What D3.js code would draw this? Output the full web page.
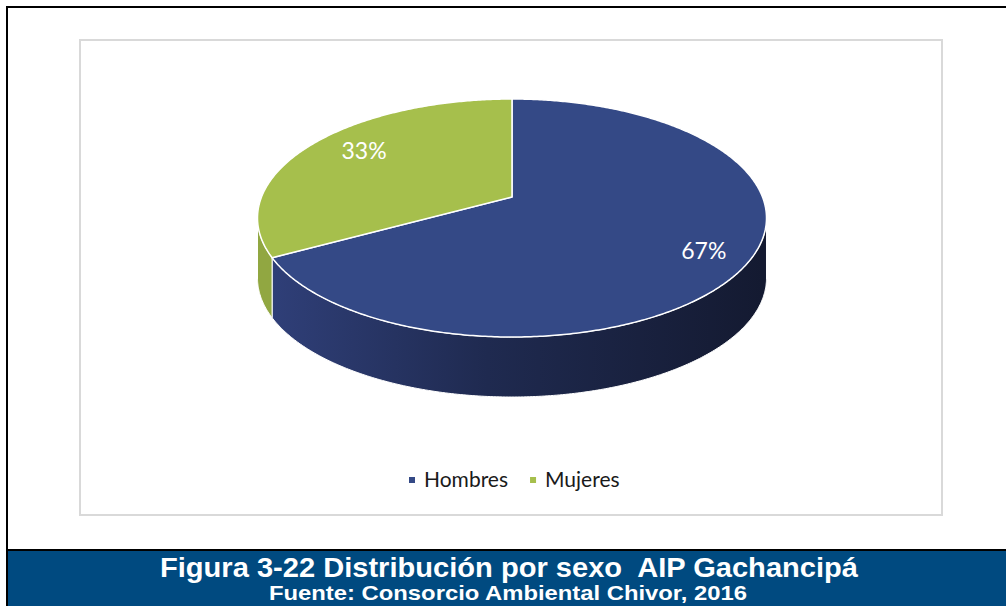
<!DOCTYPE html>
<html>
<head>
<meta charset="utf-8">
<script src="https://cdn.jsdelivr.net/npm/d3@7"></script>
<style>
  body { margin: 0; background: #fff; }
  svg { display: block; }
</style>
</head>
<body>
<div id="chart"></div>
<script>
// data
const categories = ["Hombres", "Mujeres"];
const values = [67, 33];
const labels = ["67%", "33%"];
const topColors = ["#344986", "#a6bf4c"];
const titleText = "Figura 3-22 Distribución por sexo  AIP Gachancipá";
const sourceText = "Fuente: Consorcio Ambiental Chivor, 2016";

const width = 1006, height = 606;

const svg = d3.select("#chart").append("svg")
  .attr("width", width)
  .attr("height", height);

// page frame
svg.append("rect").attr("x", 6).attr("y", 6).attr("width", width - 6).attr("height", 2).attr("fill", "#000");
svg.append("rect").attr("x", 6).attr("y", 6).attr("width", 2).attr("height", height - 6).attr("fill", "#000");

// chart box
svg.append("rect")
  .attr("x", 80).attr("y", 40)
  .attr("width", 862).attr("height", 475)
  .attr("fill", "#fff")
  .attr("stroke", "#d9d9d9")
  .attr("stroke-width", 2);

// 3d pie projection (tilted circle with a bit of perspective)
const cx = 512, cy = 197, R = 250.5, K = 115.3, A = 0.1765, depth = 60;
function proj(theta, f = 1, dz = 0) {
  const u = Math.sin(theta) * f, v = -Math.cos(theta) * f;
  const s = 1 / (1 - A * v);
  return [cx + R * u * s, cy + K * v * s + dz];
}
function arcPoints(a0, a1, dz) {
  const n = Math.max(2, Math.ceil(Math.abs(a1 - a0) / 0.01));
  return d3.range(n + 1).map(i => proj(a0 + (a1 - a0) * i / n, 1, dz));
}
const line = d3.line();

const pie = d3.pie().sort(null).value(d => d.value);
const arcs = pie(categories.map((c, i) => ({ name: c, value: values[i], label: labels[i] })));

const color = d3.scaleOrdinal().domain(categories).range(topColors);

// side gradient
const defs = svg.append("defs");
const grad = defs.append("linearGradient")
  .attr("id", "sideBlue")
  .attr("gradientUnits", "userSpaceOnUse")
  .attr("x1", cx - R).attr("x2", cx + R)
  .attr("y1", 0).attr("y2", 0);
grad.append("stop").attr("offset", 0).attr("stop-color", "#30407a");
grad.append("stop").attr("offset", 0.45).attr("stop-color", "#1f2a50");
grad.append("stop").attr("offset", 1).attr("stop-color", "#141a31");
const sideFill = { Hombres: "url(#sideBlue)", Mujeres: "#91a741" };

// visible part of the side wall
const vis0 = Math.acos(-A), vis1 = 2 * Math.PI - Math.acos(-A);

const pieG = svg.append("g");

arcs.forEach(d => {
  const a0 = Math.max(d.startAngle, vis0), a1 = Math.min(d.endAngle, vis1);
  if (a1 <= a0) return;
  const pts = arcPoints(a0, a1, 0).concat(arcPoints(a1, a0, depth));
  pieG.append("path")
    .attr("d", line(pts) + "Z")
    .attr("fill", sideFill[d.data.name])
    .attr("stroke", "#fff")
    .attr("stroke-width", 1);
});

arcs.forEach(d => {
  const pts = [[cx, cy]].concat(arcPoints(d.startAngle, d.endAngle, 0));
  pieG.append("path")
    .attr("d", line(pts) + "Z")
    .attr("fill", color(d.data.name))
    .attr("stroke", "#fff")
    .attr("stroke-width", 1.5)
    .attr("stroke-linejoin", "round");
});

// percentage labels
arcs.forEach(d => {
  const mid = (d.startAngle + d.endAngle) / 2;
  const p = proj(mid, 0.8, 0);
  pieG.append("text")
    .attr("x", p[0] + (d.data.name === "Mujeres" ? 13 : 6))
    .attr("y", p[1] + (d.data.name === "Mujeres" ? 6 : 11))
    .attr("text-anchor", "middle")
    .attr("font-family", "Lato, 'Open Sans', sans-serif")
    .attr("font-size", 23)
    .attr("fill", "#fff")
    .text(d.data.label);
});

// legend
const legend = svg.append("g").attr("transform", "translate(409,0)");
let lx = 0;
categories.forEach(c => {
  const g = legend.append("g").attr("transform", `translate(${lx},0)`);
  g.append("rect").attr("x", 0).attr("y", 477).attr("width", 6).attr("height", 6).attr("fill", color(c));
  const t = g.append("text")
    .attr("x", 15).attr("y", 487)
    .attr("font-family", "Lato, 'Open Sans', sans-serif")
    .attr("font-size", 21)
    .attr("fill", "#1a1a1a")
    .text(c);
  lx += 15 + t.node().getComputedTextLength() + 22;
});

// caption band
svg.append("rect").attr("x", 6).attr("y", 549).attr("width", width - 6).attr("height", 2).attr("fill", "#000");
svg.append("rect").attr("x", 8).attr("y", 551).attr("width", width - 8).attr("height", height - 551).attr("fill", "#004a80");
svg.append("text")
  .attr("x", 509).attr("y", 577)
  .attr("text-anchor", "middle")
  .attr("xml:space", "preserve")
  .style("white-space", "pre")
  .attr("font-family", "'Liberation Sans', Arial, sans-serif")
  .attr("font-weight", "bold")
  .attr("font-size", 28)
  .attr("textLength", 698)
  .attr("lengthAdjust", "spacingAndGlyphs")
  .attr("fill", "#fff")
  .text(titleText);
svg.append("text")
  .attr("x", 508).attr("y", 600)
  .attr("text-anchor", "middle")
  .attr("font-family", "'Liberation Sans', Arial, sans-serif")
  .attr("font-weight", "bold")
  .attr("font-size", 21)
  .attr("textLength", 478)
  .attr("lengthAdjust", "spacingAndGlyphs")
  .attr("fill", "#fff")
  .text(sourceText);
</script>
</body>
</html>
